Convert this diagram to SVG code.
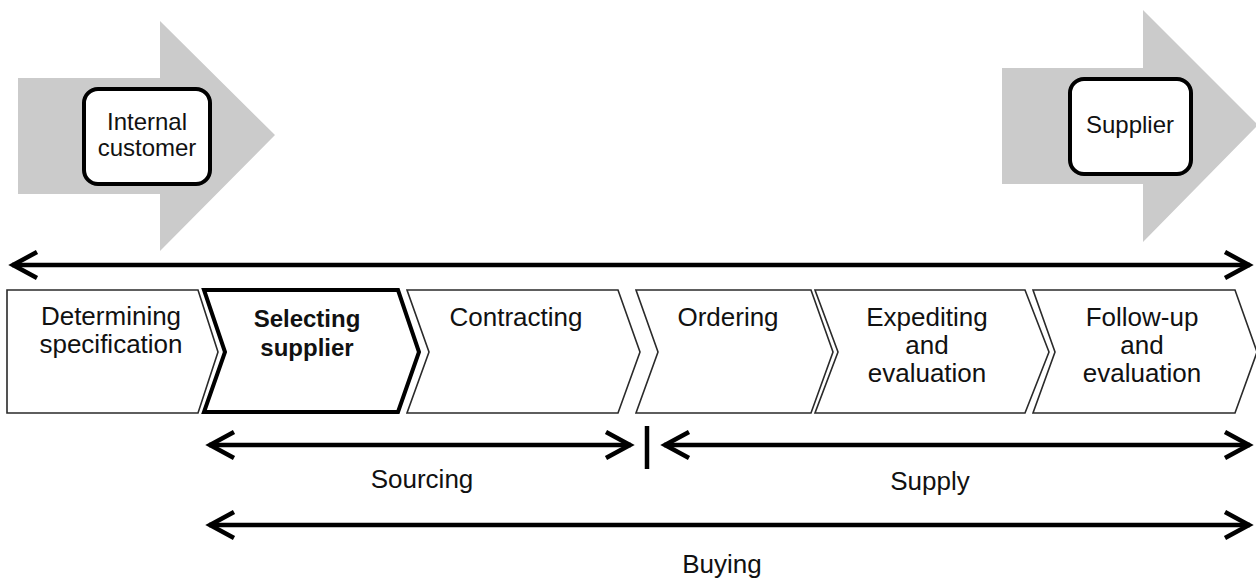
<svg xmlns="http://www.w3.org/2000/svg" width="1256" height="579" viewBox="0 0 1256 579">
<style>
  .t { font-family: "Liberation Sans", Arial, sans-serif; font-size: 26px; fill: #111; text-anchor: middle; }
  .tb { font-weight: bold; font-size: 24px; }
  .box { font-size: 24px; }
  .gray { fill: #cbcbcb; }
  .actor { fill: #fff; stroke: #000; stroke-width: 4; }
  .chev { fill: #fff; stroke: #2a2a2a; stroke-width: 1.6; stroke-linejoin: miter; }
  .chevb { fill: #fff; stroke: #000; stroke-width: 4; stroke-linejoin: miter; }
  .ln { stroke: #000; stroke-width: 4.5; fill: none; }
</style>
<defs>
  <marker id="ah" markerUnits="userSpaceOnUse" markerWidth="40" markerHeight="40" viewBox="-30 -20 40 40" refX="0" refY="0" orient="auto-start-reverse">
    <path d="M-25,-13 L-1,0 L-25,13" fill="none" stroke="#000" stroke-width="4.5" stroke-linejoin="miter" stroke-miterlimit="10"/>
  </marker>
</defs>

<g id="internal-customer">
  <polygon class="gray" points="18,78 160,78 160,21 275,135 160,251 160,194 18,194"/>
  <rect class="actor" x="84" y="89" width="126" height="95" rx="14"/>
  <text class="t box" x="147" y="130">Internal</text>
  <text class="t box" x="147" y="156">customer</text>
</g>

<g id="supplier">
  <polygon class="gray" points="1002,68 1143,68 1143,10 1258,125 1143,242 1143,184 1002,184"/>
  <rect class="actor" x="1070" y="79" width="121" height="95" rx="14"/>
  <text class="t box" x="1130" y="133">Supplier</text>
</g>

<g id="connectors">
  <line class="ln" x1="12" y1="265" x2="1250" y2="265" marker-start="url(#ah)" marker-end="url(#ah)"/>
  <line class="ln" x1="209" y1="445" x2="631" y2="445" marker-start="url(#ah)" marker-end="url(#ah)"/>
  <line x1="647" y1="426" x2="647" y2="469" stroke="#000" stroke-width="4.5"/>
  <line class="ln" x1="664" y1="445" x2="1250" y2="445" marker-start="url(#ah)" marker-end="url(#ah)"/>
  <line class="ln" x1="209" y1="525" x2="1250" y2="525" marker-start="url(#ah)" marker-end="url(#ah)"/>
</g>

<g id="determining-specification">
  <polygon class="chev" points="7,290 198,290 218,352 198,413 7,413"/>
  <text class="t" x="111" y="325">Determining</text>
  <text class="t" x="111" y="353">specification</text>
</g>

<g id="contracting">
  <polygon class="chev" points="407,290 618,290 640,352 618,413 407,413 429,352"/>
  <text class="t" x="516" y="326">Contracting</text>
</g>

<g id="ordering">
  <polygon class="chev" points="636,290 811,290 833,352 811,413 636,413 658,352"/>
  <text class="t" x="728" y="326">Ordering</text>
</g>

<g id="expediting-evaluation">
  <polygon class="chev" points="815,290 1025,290 1049,352 1025,413 815,413 838,352"/>
  <text class="t" x="927" y="326">Expediting</text>
  <text class="t" x="927" y="354">and</text>
  <text class="t" x="927" y="382">evaluation</text>
</g>

<g id="follow-up-evaluation">
  <polygon class="chev" points="1033,290 1235,290 1257,352 1235,413 1033,413 1055,352"/>
  <text class="t" x="1142" y="326">Follow-up</text>
  <text class="t" x="1142" y="354">and</text>
  <text class="t" x="1142" y="382">evaluation</text>
</g>

<g id="selecting-supplier">
  <polygon class="chevb" points="204,290 398,290 419,352 398,412 204,412 225,352"/>
  <text class="t tb" x="307" y="327">Selecting</text>
  <text class="t tb" x="307" y="356">supplier</text>
</g>

<g id="labels">
  <text class="t" x="422" y="488">Sourcing</text>
  <text class="t" x="930" y="490">Supply</text>
  <text class="t" x="722" y="573">Buying</text>
</g>
</svg>
